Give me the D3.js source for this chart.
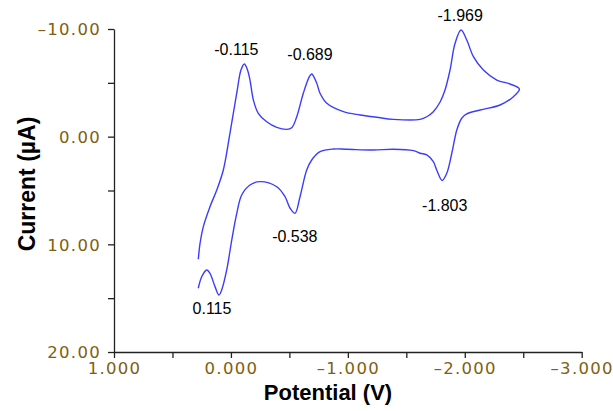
<!DOCTYPE html>
<html><head><meta charset="utf-8">
<script src="https://cdn.jsdelivr.net/npm/d3@7"></script>
<style>
html,body{margin:0;padding:0;background:#fff;}
svg{display:block;}
</style></head>
<body>
<svg id="chart" width="613" height="411"></svg>
<script>
// ---- data ----
const potential = [
  0.279, 0.264, 0.236, 0.179, 0.121, 0.065, 0.008, -0.050, -0.086, -0.115,
  -0.142, -0.163, -0.192, -0.234, -0.306, -0.392, -0.477, -0.520, -0.563, -0.619,
  -0.671, -0.691, -0.734, -0.762, -0.820, -0.962, -1.104, -1.247, -1.389, -1.618,
  -1.675, -1.731, -1.789, -1.831, -1.874, -1.917, -1.968, -2.017, -2.074, -2.159,
  -2.274, -2.387, -2.467,
  -2.416, -2.302, -2.131, -2.017, -1.974, -1.932, -1.889, -1.846, -1.806, -1.760,
  -1.731, -1.675, -1.618, -1.560, -1.389, -1.218, -0.991, -0.876, -0.762, -0.691,
  -0.648, -0.591, -0.548, -0.506, -0.463, -0.392, -0.249, -0.163, -0.092, -0.050,
  -0.007, 0.036, 0.079, 0.102, 0.136, 0.179, 0.207, 0.250, 0.279
];
const current = [
  11.39, 9.90, 8.36, 6.50, 4.95, 3.10, -0.34, -4.06, -6.19, -6.75,
  -6.19, -5.26, -3.41, -2.17, -1.39, -0.87, -0.68, -0.83, -1.85, -4.03,
  -5.57, -5.82, -4.96, -4.03, -3.10, -2.32, -2.01, -1.80, -1.61, -1.61,
  -1.85, -2.32, -3.22, -4.33, -6.19, -8.67, -9.91, -8.98, -7.43, -6.19,
  -5.26, -4.89, -4.43,
  -3.71, -2.94, -2.48, -2.11, -1.71, -0.62, 1.54, 3.40, 4.07, 3.10,
  2.32, 1.70, 1.54, 1.30, 1.17, 1.24, 1.17, 1.15, 1.40, 2.17,
  3.10, 5.58, 7.12, 6.65, 5.58, 4.65, 4.18, 4.49, 5.42, 7.12,
  9.60, 12.38, 14.24, 14.71, 13.93, 12.69, 12.38, 13.01, 14.08
];
const peakLabels = ["-0.115", "-0.689", "-1.969", "-1.803", "-0.538", "0.115"];
const peakPotential = [-0.115, -0.689, -1.969, -1.803, -0.538, 0.115];
const peakCurrent = [-6.75, -5.82, -9.91, 4.07, 7.12, 14.71];

const xTicks = [1, 0, -1, -2, -3];
const xMinorTicks = [0.5, -0.5, -1.5, -2.5];
const yTicks = [-10, 0, 10, 20];
const yMinorTicks = [-5, 5, 15];
const xTitle = "Potential (V)";
const yTitle = "Current (µA)";

// ---- layout ----
const svg = d3.select("#chart");
const x = d3.scaleLinear().domain([1, -3]).range([114, 581.7]);
const y = d3.scaleLinear().domain([-10, 20]).range([29, 352]);
const tickColor = "#80600f";
const dashFmt = (f) => (v) => f(v).replace("−", "–").replace("-", "–");

// x axis
const gx = svg.append("g").attr("transform", `translate(0,${y(20)})`)
  .call(d3.axisBottom(x).tickValues(xTicks.concat(xMinorTicks))
    .tickFormat(v => xTicks.includes(v) ? dashFmt(d3.format(".3f"))(v) : "")
    .tickSize(6).tickSizeOuter(0).tickPadding(4));
// y axis
const gy = svg.append("g").attr("transform", `translate(${x(1)},0)`)
  .call(d3.axisLeft(y).tickValues(yTicks.concat(yMinorTicks))
    .tickFormat(v => yTicks.includes(v) ? dashFmt(d3.format(".2f"))(v) : "")
    .tickSize(6).tickSizeOuter(0).tickPadding(7));

[gx, gy].forEach(g => {
  g.select(".domain").attr("stroke", "#222").attr("stroke-width", 1.3);
  g.selectAll(".tick line").attr("stroke", "#222").attr("stroke-width", 1.3);
  g.selectAll(".tick text")
    .attr("fill", tickColor)
    .style("font-family", "'DejaVu Sans', Verdana, sans-serif")
    .style("font-size", "16.5px")
    .style("letter-spacing", "1.3px");
});
gy.selectAll(".tick text").attr("dy", "0.36em");
gx.selectAll(".tick text").attr("dy", "0.72em");

// titles
svg.append("text")
  .attr("x", 328).attr("y", 400)
  .attr("text-anchor", "middle")
  .style("font-family", "'Liberation Sans', Arial, sans-serif")
  .style("font-weight", "bold").style("font-size", "22px")
  .attr("fill", "#000")
  .text(xTitle);
svg.append("text")
  .attr("transform", `translate(35,184) rotate(-90)`)
  .attr("text-anchor", "middle")
  .style("font-family", "'Liberation Sans', Arial, sans-serif")
  .style("font-weight", "bold").style("font-size", "23px")
  .attr("fill", "#000")
  .text(yTitle);

// curve
const pts = potential.map((p, i) => [p, current[i]]);
const line = d3.line()
  .x(d => x(d[0])).y(d => y(d[1]))
  .curve(d3.curveCatmullRom.alpha(0.5));
svg.append("path")
  .datum(pts)
  .attr("d", line)
  .attr("fill", "none")
  .attr("stroke", "#3c3cff")
  .attr("stroke-width", 1.4)
  .attr("stroke-linejoin", "round");

// peak annotations (pixel offsets of label centre from the peak)
const labelOffsets = [[-8, -14], [-1.5, -20], [-1, -14], [3, 25], [1, 23], [-5.5, 13]];
svg.append("g").selectAll("text")
  .data(peakLabels)
  .join("text")
  .attr("x", (d, i) => x(peakPotential[i]) + labelOffsets[i][0])
  .attr("y", (d, i) => y(peakCurrent[i]) + labelOffsets[i][1] + 5.5)
  .attr("text-anchor", "middle")
  .style("font-family", "'Liberation Sans', Arial, Helvetica, sans-serif")
  .style("font-size", "16px")
  .attr("fill", "#000")
  .text(d => d);
</script>
</body></html>
